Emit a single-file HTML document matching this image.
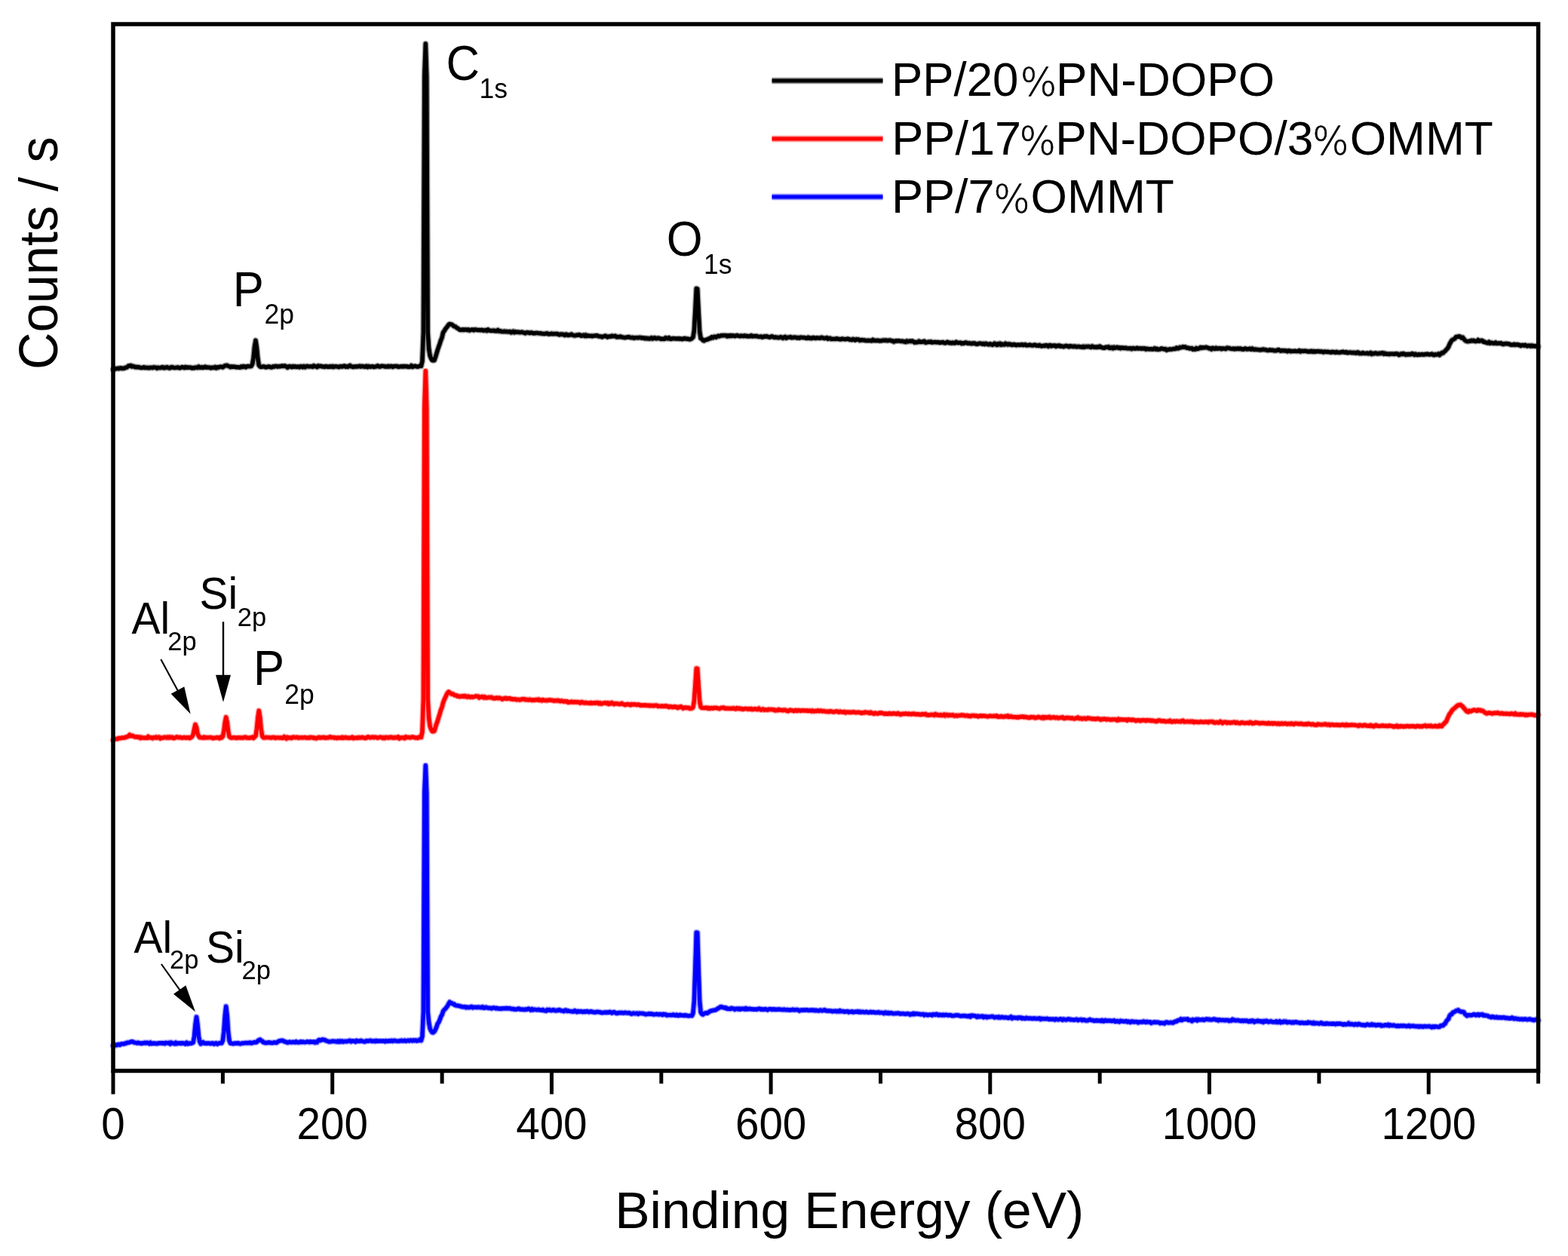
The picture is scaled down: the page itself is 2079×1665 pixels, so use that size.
<!DOCTYPE html>
<html><head><meta charset="utf-8"><title>XPS survey spectra</title>
<style>
html,body{margin:0;padding:0;background:#fff;overflow:hidden;}
svg{display:block;}
</style></head><body>
<svg width="2079" height="1665" viewBox="0 0 2079 1665" font-family="'Liberation Sans', Arial, sans-serif">
<rect width="2079" height="1665" fill="#fff"/>
<defs>
<path id="c0" d="M150.0 489.8L151.5 489.8L152.9 489.0L154.4 488.6L155.8 488.3L157.3 488.7L158.7 488.1L160.2 487.8L161.6 488.5L163.1 488.3L164.5 488.4L166.0 487.4L167.4 487.2L168.9 486.5L170.3 485.0L171.8 485.1L173.3 484.4L174.7 485.9L176.2 485.4L177.6 485.8L179.1 486.7L180.5 486.4L182.0 486.9L183.4 486.5L184.9 487.0L186.3 487.5L187.8 487.5L189.2 487.4L190.7 486.8L192.2 487.5L193.6 487.3L195.1 487.6L196.5 487.4L198.0 487.8L199.4 487.3L200.9 487.4L202.3 487.6L203.8 486.8L205.2 487.1L206.7 487.1L208.1 488.2L209.6 487.3L211.0 487.6L212.5 487.6L214.0 487.2L215.4 486.6L216.9 487.7L218.3 487.1L219.8 487.6L221.2 486.7L222.7 487.1L224.1 487.9L225.6 487.9L227.0 486.7L228.5 486.7L229.9 487.3L231.4 487.6L232.9 487.4L234.3 487.4L235.8 486.9L237.2 487.6L238.7 487.8L240.1 487.1L241.6 486.7L243.0 487.0L244.5 487.6L245.9 486.5L247.4 487.3L248.8 486.9L250.3 487.2L251.7 487.2L253.2 487.3L254.7 488.0L256.1 487.5L257.6 487.9L259.0 487.2L260.5 487.1L261.9 487.5L263.4 486.0L264.8 487.3L266.3 487.4L267.7 486.7L269.2 487.5L270.6 487.0L272.1 486.2L273.6 487.2L275.0 486.9L276.5 487.1L277.9 487.2L279.4 487.9L280.8 487.3L282.3 487.3L283.7 487.5L285.2 486.5L286.6 487.9L288.1 486.8L289.5 487.3L291.0 486.4L292.4 486.3L293.9 486.3L295.4 486.9L296.8 485.9L298.3 484.8L299.7 484.5L301.2 484.4L302.6 485.4L304.1 485.6L305.5 486.7L307.0 485.9L308.4 486.3L309.9 486.1L311.3 486.2L312.8 486.8L314.2 486.6L315.7 486.8L317.2 487.0L318.6 487.0L320.1 485.8L321.5 486.5L323.0 485.4L324.4 486.0L325.9 486.8L327.3 485.7L328.8 485.5L330.2 485.7L331.7 485.6L333.1 485.4L334.6 482.7L336.1 474.5L337.5 459.4L339.0 451.3L340.4 460.8L341.9 475.8L343.3 484.2L344.8 486.0L346.2 486.5L347.7 486.1L349.1 485.8L350.6 486.1L352.0 486.7L353.5 486.7L354.9 486.3L356.4 485.9L357.9 486.3L359.3 486.9L360.8 486.7L362.2 485.8L363.7 486.1L365.1 485.4L366.6 485.5L368.0 486.1L369.5 485.7L370.9 485.7L372.4 485.5L373.8 485.0L375.3 485.5L376.8 485.0L378.2 485.1L379.7 486.1L381.1 487.2L382.6 486.1L384.0 485.5L385.5 486.1L386.9 486.6L388.4 485.5L389.8 486.3L391.3 485.7L392.7 486.5L394.2 486.3L395.6 486.0L397.1 486.8L398.6 485.7L400.0 485.6L401.5 486.7L402.9 485.5L404.4 486.8L405.8 485.8L407.3 485.4L408.7 485.8L410.2 485.9L411.6 485.9L413.1 485.7L414.5 486.3L416.0 484.8L417.5 485.6L418.9 485.7L420.4 486.6L421.8 484.9L423.3 485.6L424.7 485.3L426.2 485.5L427.6 486.1L429.1 486.0L430.5 486.4L432.0 485.5L433.4 485.9L434.9 486.3L436.3 486.2L437.8 485.6L439.3 486.3L440.7 485.4L442.2 486.6L443.6 485.9L445.1 485.7L446.5 485.9L448.0 486.2L449.4 486.6L450.9 485.7L452.3 485.6L453.8 486.1L455.2 485.4L456.7 485.0L458.2 486.2L459.6 485.6L461.1 486.3L462.5 485.3L464.0 484.5L465.4 485.9L466.9 485.9L468.3 486.5L469.8 486.0L471.2 485.9L472.7 486.1L474.1 485.6L475.6 485.8L477.0 485.2L478.5 486.0L480.0 485.4L481.4 485.6L482.9 486.1L484.3 486.2L485.8 485.3L487.2 486.6L488.7 485.5L490.1 486.1L491.6 486.2L493.0 485.8L494.5 485.8L495.9 486.5L497.4 486.1L498.8 485.9L500.3 484.9L501.8 485.4L503.2 486.2L504.7 485.8L506.1 485.2L507.6 485.4L509.0 485.5L510.5 486.0L511.9 485.8L513.4 486.1L514.8 485.3L516.3 486.1L517.7 485.4L519.2 485.5L520.7 486.4L522.1 485.6L523.6 485.5L525.0 485.5L526.5 485.4L527.9 486.3L529.4 486.2L530.8 485.9L532.3 485.7L533.7 486.0L535.2 485.5L536.6 485.8L538.1 485.7L539.5 485.6L541.0 486.3L542.5 486.3L543.9 486.1L545.4 484.7L546.8 486.4L548.3 485.8L549.7 485.3L551.2 485.5L552.6 486.0L554.1 486.0L555.5 485.7L557.0 484.8L558.4 485.3L559.9 479.1L561.4 441.0L562.8 100.8L564.3 58.0L565.7 100.8L567.2 441.0L568.6 462.0L570.1 471.5L571.5 475.0L573.0 477.5L574.4 477.8L575.9 477.6L577.3 473.7L578.8 468.8L580.2 464.0L581.7 459.6L583.2 455.3L584.6 450.9L586.1 447.2L587.5 440.9L589.0 438.8L590.4 436.4L591.9 434.4L593.3 432.7L594.8 430.5L596.2 429.5L597.7 429.9L599.1 430.2L600.6 431.4L602.1 432.6L603.5 432.8L605.0 434.1L606.4 435.0L607.9 435.8L609.3 437.0L610.8 437.3L612.2 437.3L613.7 436.8L615.1 437.4L616.6 436.9L618.0 436.9L619.5 437.5L620.9 436.8L622.4 438.0L623.9 437.5L625.3 437.0L626.8 437.0L628.2 437.8L629.7 436.8L631.1 437.1L632.6 437.4L634.0 437.5L635.5 437.5L636.9 437.7L638.4 437.4L639.8 437.5L641.3 438.2L642.7 437.9L644.2 437.5L645.7 438.5L647.1 436.9L648.6 437.9L650.0 438.3L651.5 438.5L652.9 438.3L654.4 438.1L655.8 438.7L657.3 438.5L658.7 438.9L660.2 437.5L661.6 439.0L663.1 438.6L664.6 439.5L666.0 439.5L667.5 439.6L668.9 439.2L670.4 439.7L671.8 439.5L673.3 439.8L674.7 439.8L676.2 439.5L677.6 440.9L679.1 440.4L680.5 439.3L682.0 440.7L683.4 439.7L684.9 440.3L686.4 440.2L687.8 440.3L689.3 440.7L690.7 440.5L692.2 440.1L693.6 440.8L695.1 441.1L696.5 441.8L698.0 440.9L699.4 440.6L700.9 441.0L702.3 441.6L703.8 440.9L705.3 441.1L706.7 441.7L708.2 441.6L709.6 441.7L711.1 441.4L712.5 441.4L714.0 441.7L715.4 441.9L716.9 441.8L718.3 442.3L719.8 442.4L721.2 442.5L722.7 442.5L724.1 442.0L725.6 441.9L727.1 442.9L728.5 442.6L730.0 442.7L731.4 442.2L732.9 442.7L734.3 442.6L735.8 442.5L737.2 442.7L738.7 442.4L740.1 443.2L741.6 443.8L743.0 443.0L744.5 443.4L746.0 443.0L747.4 443.8L748.9 444.4L750.3 443.1L751.8 443.6L753.2 444.5L754.7 444.0L756.1 444.0L757.6 443.1L759.0 444.0L760.5 444.6L761.9 444.9L763.4 444.6L764.8 444.1L766.3 444.2L767.8 443.7L769.2 444.1L770.7 445.2L772.1 444.7L773.6 444.2L775.0 445.4L776.5 444.1L777.9 445.5L779.4 444.8L780.8 445.2L782.3 445.4L783.7 445.2L785.2 445.7L786.6 445.2L788.1 445.1L789.6 445.0L791.0 444.7L792.5 445.1L793.9 445.9L795.4 445.9L796.8 446.2L798.3 446.8L799.7 446.0L801.2 445.9L802.6 445.2L804.1 445.7L805.5 446.9L807.0 446.2L808.5 445.9L809.9 446.2L811.4 445.2L812.8 445.7L814.3 445.6L815.7 445.3L817.2 446.7L818.6 446.8L820.1 446.4L821.5 446.7L823.0 446.1L824.4 446.9L825.9 447.1L827.3 447.5L828.8 447.6L830.3 447.2L831.7 447.0L833.2 446.7L834.6 446.9L836.1 447.5L837.5 447.6L839.0 447.4L840.4 448.2L841.9 447.8L843.3 447.6L844.8 447.6L846.2 447.8L847.7 447.4L849.2 447.4L850.6 448.1L852.1 447.8L853.5 448.0L855.0 448.7L856.4 448.1L857.9 448.9L859.3 448.4L860.8 449.1L862.2 448.7L863.7 447.7L865.1 449.1L866.6 448.5L868.0 447.7L869.5 448.7L871.0 448.7L872.4 448.1L873.9 448.4L875.3 448.9L876.8 449.4L878.2 449.3L879.7 449.3L881.1 449.3L882.6 447.7L884.0 448.5L885.5 448.9L886.9 447.7L888.4 449.2L889.9 449.3L891.3 448.6L892.8 448.8L894.2 448.6L895.7 449.0L897.1 449.0L898.6 449.1L900.0 448.6L901.5 449.3L902.9 449.0L904.4 449.6L905.8 449.3L907.3 448.5L908.7 448.6L910.2 449.3L911.7 449.1L913.1 449.6L914.6 449.8L916.0 449.4L917.5 448.5L918.9 447.0L920.4 438.0L921.8 412.1L923.3 382.5L924.7 382.9L926.2 413.0L927.6 438.9L929.1 448.5L930.6 449.3L932.0 451.1L933.5 451.7L934.9 450.8L936.4 450.3L937.8 450.0L939.3 449.5L940.7 448.5L942.2 448.6L943.6 446.9L945.1 447.8L946.5 446.4L948.0 446.4L949.4 447.2L950.9 445.9L952.4 445.3L953.8 445.8L955.3 445.1L956.7 444.8L958.2 444.7L959.6 444.7L961.1 444.6L962.5 444.6L964.0 445.8L965.4 444.8L966.9 445.6L968.3 444.6L969.8 445.5L971.2 444.7L972.7 445.1L974.2 445.6L975.6 445.1L977.1 444.5L978.5 445.2L980.0 445.4L981.4 445.7L982.9 445.1L984.3 445.4L985.8 445.6L987.2 444.9L988.7 445.6L990.1 445.3L991.6 445.9L993.1 445.7L994.5 445.7L996.0 444.7L997.4 445.8L998.9 445.7L1000.3 445.5L1001.8 445.7L1003.2 445.4L1004.7 446.1L1006.1 446.4L1007.6 446.4L1009.0 446.0L1010.5 447.0L1011.9 446.7L1013.4 445.9L1014.9 446.3L1016.3 445.7L1017.8 446.4L1019.2 446.8L1020.7 447.1L1022.1 446.4L1023.6 445.9L1025.0 446.6L1026.5 447.4L1027.9 446.9L1029.4 447.4L1030.8 447.3L1032.3 447.7L1033.8 447.3L1035.2 446.7L1036.7 447.3L1038.1 448.3L1039.6 447.0L1041.0 446.4L1042.5 448.2L1043.9 447.5L1045.4 447.1L1046.8 447.1L1048.3 446.7L1049.7 447.7L1051.2 447.5L1052.6 447.2L1054.1 447.3L1055.6 447.3L1057.0 448.0L1058.5 447.5L1059.9 448.2L1061.4 447.2L1062.8 447.4L1064.3 447.5L1065.7 447.5L1067.2 447.7L1068.6 448.2L1070.1 448.3L1071.5 447.3L1073.0 448.4L1074.5 447.9L1075.9 448.6L1077.4 447.8L1078.8 447.5L1080.3 448.3L1081.7 448.3L1083.2 447.8L1084.6 448.0L1086.1 448.1L1087.5 448.2L1089.0 447.3L1090.4 447.6L1091.9 448.3L1093.3 448.5L1094.8 448.2L1096.3 447.7L1097.7 449.2L1099.2 448.5L1100.6 448.3L1102.1 449.5L1103.5 449.4L1105.0 449.4L1106.4 449.4L1107.9 449.4L1109.3 448.8L1110.8 449.3L1112.2 449.5L1113.7 449.7L1115.1 449.7L1116.6 449.1L1118.1 449.4L1119.5 449.6L1121.0 449.7L1122.4 449.5L1123.9 449.2L1125.3 449.5L1126.8 450.3L1128.2 450.2L1129.7 450.6L1131.1 449.5L1132.6 450.3L1134.0 450.9L1135.5 449.7L1137.0 450.2L1138.4 450.0L1139.9 451.3L1141.3 450.8L1142.8 450.6L1144.2 450.9L1145.7 450.9L1147.1 451.4L1148.6 451.5L1150.0 451.5L1151.5 451.3L1152.9 451.5L1154.4 451.5L1155.8 451.8L1157.3 450.4L1158.8 451.5L1160.2 451.4L1161.7 451.5L1163.1 451.3L1164.6 451.5L1166.0 451.8L1167.5 451.7L1168.9 451.7L1170.4 451.2L1171.8 451.1L1173.3 451.4L1174.7 451.0L1176.2 451.6L1177.7 451.5L1179.1 451.1L1180.6 451.1L1182.0 451.8L1183.5 451.8L1184.9 453.1L1186.4 452.5L1187.8 451.8L1189.3 452.0L1190.7 451.8L1192.2 451.9L1193.6 452.2L1195.1 452.4L1196.5 452.1L1198.0 452.8L1199.5 452.8L1200.9 453.4L1202.4 452.0L1203.8 452.9L1205.3 452.5L1206.7 452.0L1208.2 452.6L1209.6 452.0L1211.1 452.8L1212.5 454.1L1214.0 453.5L1215.4 453.8L1216.9 453.5L1218.4 452.3L1219.8 453.3L1221.3 453.2L1222.7 453.4L1224.2 452.7L1225.6 452.3L1227.1 454.2L1228.5 453.9L1230.0 453.5L1231.4 453.2L1232.9 453.5L1234.3 452.9L1235.8 454.0L1237.2 453.6L1238.7 453.6L1240.2 453.5L1241.6 453.7L1243.1 453.8L1244.5 453.6L1246.0 454.3L1247.4 454.0L1248.9 453.9L1250.3 453.6L1251.8 454.6L1253.2 454.7L1254.7 454.4L1256.1 453.3L1257.6 454.1L1259.0 454.7L1260.5 454.3L1262.0 454.9L1263.4 454.2L1264.9 454.8L1266.3 454.7L1267.8 453.4L1269.2 454.4L1270.7 454.5L1272.1 454.4L1273.6 454.3L1275.0 455.5L1276.5 454.8L1277.9 455.2L1279.4 454.3L1280.9 454.0L1282.3 454.8L1283.8 455.2L1285.2 454.8L1286.7 455.4L1288.1 455.6L1289.6 455.0L1291.0 455.3L1292.5 455.0L1293.9 455.9L1295.4 456.2L1296.8 455.7L1298.3 455.3L1299.7 455.3L1301.2 455.5L1302.7 456.1L1304.1 455.4L1305.6 456.4L1307.0 455.3L1308.5 455.8L1309.9 456.5L1311.4 456.7L1312.8 455.8L1314.3 456.4L1315.7 457.2L1317.2 456.6L1318.6 455.2L1320.1 456.3L1321.6 457.3L1323.0 455.8L1324.5 456.7L1325.9 455.4L1327.4 457.1L1328.8 456.1L1330.3 456.9L1331.7 456.9L1333.2 455.3L1334.6 456.0L1336.1 456.8L1337.5 456.0L1339.0 456.7L1340.4 456.4L1341.9 457.4L1343.4 456.7L1344.8 456.5L1346.3 457.3L1347.7 457.6L1349.2 457.0L1350.6 457.2L1352.1 457.4L1353.5 457.0L1355.0 456.7L1356.4 457.5L1357.9 457.2L1359.3 456.7L1360.8 457.8L1362.3 457.6L1363.7 457.6L1365.2 457.2L1366.6 457.5L1368.1 457.9L1369.5 457.9L1371.0 457.3L1372.4 457.3L1373.9 458.0L1375.3 457.9L1376.8 458.3L1378.2 457.4L1379.7 458.4L1381.1 458.8L1382.6 458.5L1384.1 458.2L1385.5 458.6L1387.0 457.6L1388.4 458.0L1389.9 459.2L1391.3 457.6L1392.8 457.8L1394.2 458.8L1395.7 458.2L1397.1 458.2L1398.6 458.0L1400.0 459.3L1401.5 458.3L1403.0 458.5L1404.4 457.9L1405.9 459.1L1407.3 458.8L1408.8 459.1L1410.2 459.6L1411.7 459.0L1413.1 458.4L1414.6 458.6L1416.0 459.1L1417.5 459.7L1418.9 458.6L1420.4 459.1L1421.8 459.2L1423.3 459.6L1424.8 458.9L1426.2 459.5L1427.7 459.8L1429.1 459.4L1430.6 459.4L1432.0 459.8L1433.5 459.8L1434.9 460.2L1436.4 459.2L1437.8 460.3L1439.3 459.6L1440.7 459.3L1442.2 459.6L1443.6 459.3L1445.1 459.8L1446.6 460.4L1448.0 459.0L1449.5 459.5L1450.9 460.4L1452.4 460.0L1453.8 460.5L1455.3 459.6L1456.7 460.2L1458.2 459.1L1459.6 460.0L1461.1 460.7L1462.5 461.0L1464.0 461.2L1465.5 460.5L1466.9 460.2L1468.4 460.5L1469.8 459.8L1471.3 461.4L1472.7 461.3L1474.2 460.4L1475.6 461.7L1477.1 460.3L1478.5 461.3L1480.0 460.7L1481.4 460.3L1482.9 461.3L1484.3 460.7L1485.8 461.8L1487.3 460.9L1488.7 461.4L1490.2 461.2L1491.6 461.5L1493.1 461.2L1494.5 461.9L1496.0 461.9L1497.4 461.7L1498.9 461.6L1500.3 462.6L1501.8 461.5L1503.2 461.6L1504.7 462.2L1506.2 461.9L1507.6 461.3L1509.1 462.0L1510.5 461.9L1512.0 461.7L1513.4 462.3L1514.9 461.7L1516.3 462.2L1517.8 461.8L1519.2 463.1L1520.7 462.3L1522.1 462.7L1523.6 462.7L1525.0 462.9L1526.5 462.6L1528.0 463.0L1529.4 462.8L1530.9 461.7L1532.3 463.0L1533.8 462.3L1535.2 463.4L1536.7 463.1L1538.1 462.9L1539.6 462.0L1541.0 462.2L1542.5 462.6L1543.9 463.0L1545.4 462.6L1546.9 464.2L1548.3 463.5L1549.8 463.3L1551.2 462.9L1552.7 463.1L1554.1 462.9L1555.6 462.5L1557.0 462.4L1558.5 462.5L1559.9 461.1L1561.4 461.7L1562.8 461.8L1564.3 460.4L1565.7 460.7L1567.2 460.3L1568.7 459.7L1570.1 460.4L1571.6 459.9L1573.0 461.0L1574.5 461.2L1575.9 461.3L1577.4 462.0L1578.8 461.9L1580.3 461.6L1581.7 463.2L1583.2 462.9L1584.6 463.1L1586.1 461.5L1587.5 462.5L1589.0 462.2L1590.5 461.6L1591.9 460.4L1593.4 461.3L1594.8 460.7L1596.3 460.8L1597.7 460.7L1599.2 460.3L1600.6 460.9L1602.1 461.2L1603.5 462.1L1605.0 461.6L1606.4 462.9L1607.9 461.3L1609.4 461.8L1610.8 462.4L1612.3 461.2L1613.7 462.2L1615.2 462.1L1616.6 461.7L1618.1 461.8L1619.5 462.7L1621.0 461.8L1622.4 462.1L1623.9 462.2L1625.3 462.6L1626.8 461.1L1628.2 461.4L1629.7 461.5L1631.2 462.0L1632.6 462.4L1634.1 462.5L1635.5 462.0L1637.0 462.9L1638.4 462.2L1639.9 462.5L1641.3 461.9L1642.8 462.6L1644.2 461.9L1645.7 462.8L1647.1 462.7L1648.6 463.2L1650.1 462.2L1651.5 462.0L1653.0 462.9L1654.4 462.8L1655.9 462.5L1657.3 462.2L1658.8 463.2L1660.2 462.0L1661.7 462.8L1663.1 463.5L1664.6 463.0L1666.0 463.4L1667.5 463.5L1668.9 463.6L1670.4 463.9L1671.9 463.8L1673.3 463.4L1674.8 463.1L1676.2 463.6L1677.7 463.5L1679.1 464.0L1680.6 464.5L1682.0 464.4L1683.5 463.8L1684.9 464.2L1686.4 464.2L1687.8 464.1L1689.3 464.9L1690.8 464.7L1692.2 464.7L1693.7 464.0L1695.1 463.5L1696.6 464.3L1698.0 465.2L1699.5 464.7L1700.9 464.8L1702.4 464.7L1703.8 465.1L1705.3 464.9L1706.7 465.8L1708.2 465.0L1709.6 464.9L1711.1 465.8L1712.6 465.5L1714.0 465.5L1715.5 465.5L1716.9 465.3L1718.4 465.5L1719.8 465.6L1721.3 465.5L1722.7 464.6L1724.2 466.1L1725.6 465.3L1727.1 465.3L1728.5 465.5L1730.0 465.3L1731.4 465.3L1732.9 465.7L1734.4 466.2L1735.8 465.7L1737.3 466.1L1738.7 465.3L1740.2 466.3L1741.6 465.5L1743.1 466.4L1744.5 465.8L1746.0 465.9L1747.4 465.6L1748.9 465.7L1750.3 466.2L1751.8 465.9L1753.3 466.3L1754.7 466.9L1756.2 466.1L1757.6 466.4L1759.1 466.5L1760.5 466.3L1762.0 466.6L1763.4 466.8L1764.9 467.2L1766.3 466.4L1767.8 466.7L1769.2 466.8L1770.7 467.4L1772.1 466.5L1773.6 467.1L1775.1 467.4L1776.5 467.3L1778.0 466.8L1779.4 466.7L1780.9 466.3L1782.3 467.0L1783.8 467.2L1785.2 466.6L1786.7 467.7L1788.1 467.5L1789.6 467.3L1791.0 467.2L1792.5 467.7L1794.0 467.4L1795.4 467.8L1796.9 467.4L1798.3 468.2L1799.8 467.0L1801.2 467.3L1802.7 468.6L1804.1 468.3L1805.6 468.6L1807.0 467.6L1808.5 468.3L1809.9 468.5L1811.4 468.5L1812.8 468.0L1814.3 468.8L1815.8 468.4L1817.2 467.6L1818.7 469.4L1820.1 468.4L1821.6 468.9L1823.0 468.1L1824.5 468.0L1825.9 468.9L1827.4 468.9L1828.8 468.2L1830.3 468.7L1831.7 468.0L1833.2 467.8L1834.7 469.2L1836.1 468.2L1837.6 469.1L1839.0 469.3L1840.5 469.1L1841.9 469.6L1843.4 469.1L1844.8 469.1L1846.3 469.1L1847.7 469.3L1849.2 469.3L1850.6 468.8L1852.1 469.2L1853.5 469.1L1855.0 470.6L1856.5 469.9L1857.9 469.0L1859.4 469.6L1860.8 468.6L1862.3 469.4L1863.7 470.3L1865.2 469.5L1866.6 470.1L1868.1 469.4L1869.5 469.8L1871.0 469.7L1872.4 468.6L1873.9 469.3L1875.4 470.5L1876.8 469.3L1878.3 470.2L1879.7 470.5L1881.2 469.7L1882.6 470.2L1884.1 470.0L1885.5 469.6L1887.0 470.1L1888.4 470.1L1889.9 469.5L1891.3 469.7L1892.8 469.3L1894.2 469.8L1895.7 470.0L1897.2 469.6L1898.6 469.2L1900.1 470.4L1901.5 470.7L1903.0 469.7L1904.4 470.2L1905.9 469.9L1907.3 469.0L1908.8 470.6L1910.2 469.1L1911.7 467.6L1913.1 468.0L1914.6 466.5L1916.0 465.4L1917.5 463.7L1919.0 462.2L1920.4 460.1L1921.9 456.5L1923.3 453.9L1924.8 451.4L1926.2 450.2L1927.7 449.7L1929.1 448.6L1930.6 446.6L1932.0 446.4L1933.5 446.4L1934.9 445.8L1936.4 446.6L1937.9 447.9L1939.3 447.2L1940.8 449.2L1942.2 450.8L1943.7 452.0L1945.1 452.5L1946.6 452.6L1948.0 452.3L1949.5 452.1L1950.9 451.3L1952.4 451.9L1953.8 451.3L1955.3 452.2L1956.7 452.5L1958.2 452.1L1959.7 450.7L1961.1 452.2L1962.6 451.9L1964.0 451.4L1965.5 451.5L1966.9 453.2L1968.4 453.1L1969.8 454.0L1971.3 454.3L1972.7 454.8L1974.2 453.3L1975.6 455.1L1977.1 454.3L1978.6 454.6L1980.0 455.1L1981.5 455.1L1982.9 454.0L1984.4 455.4L1985.8 455.2L1987.3 454.9L1988.7 455.2L1990.2 454.8L1991.6 456.0L1993.1 456.4L1994.5 455.6L1996.0 455.7L1997.4 455.4L1998.9 455.8L2000.4 455.8L2001.8 456.4L2003.3 457.2L2004.7 457.0L2006.2 457.1L2007.6 456.3L2009.1 457.3L2010.5 456.7L2012.0 456.7L2013.4 457.5L2014.9 457.3L2016.3 458.5L2017.8 457.6L2019.3 457.5L2020.7 458.1L2022.2 457.3L2023.6 458.3L2025.1 458.8L2026.5 458.1L2028.0 458.1L2029.4 458.9L2030.9 458.0L2032.3 458.8L2033.8 458.5L2035.2 459.0L2036.7 458.6L2038.1 459.4L2039.6 459.5"/>
<path id="c1" d="M150.0 981.3L151.5 979.6L152.9 979.8L154.4 979.5L155.8 979.6L157.3 978.5L158.7 978.7L160.2 978.4L161.6 978.1L163.1 978.0L164.5 978.0L166.0 977.7L167.4 976.8L168.9 976.7L170.3 975.8L171.8 974.2L173.3 975.7L174.7 975.1L176.2 975.5L177.6 976.4L179.1 976.9L180.5 977.0L182.0 976.8L183.4 977.5L184.9 976.9L186.3 978.5L187.8 977.4L189.2 978.0L190.7 978.1L192.2 978.2L193.6 978.0L195.1 978.3L196.5 976.4L198.0 977.9L199.4 977.9L200.9 977.8L202.3 978.7L203.8 977.5L205.2 977.9L206.7 977.0L208.1 978.1L209.6 977.2L211.0 977.2L212.5 979.0L214.0 978.2L215.4 977.9L216.9 978.0L218.3 977.2L219.8 977.4L221.2 978.0L222.7 976.9L224.1 978.0L225.6 977.0L227.0 977.9L228.5 977.3L229.9 978.6L231.4 978.3L232.9 977.6L234.3 976.9L235.8 977.4L237.2 977.7L238.7 977.3L240.1 977.9L241.6 978.2L243.0 977.7L244.5 977.5L245.9 978.1L247.4 977.6L248.8 978.1L250.3 977.6L251.7 978.5L253.2 977.5L254.7 976.5L256.1 973.8L257.6 966.3L259.0 960.5L260.5 964.2L261.9 972.3L263.4 975.6L264.8 977.6L266.3 977.7L267.7 977.7L269.2 978.1L270.6 977.1L272.1 978.0L273.6 977.6L275.0 977.8L276.5 977.6L277.9 977.6L279.4 977.5L280.8 977.9L282.3 978.7L283.7 978.2L285.2 978.1L286.6 978.0L288.1 977.5L289.5 978.0L291.0 978.7L292.4 977.1L293.9 977.9L295.4 976.2L296.8 969.3L298.3 957.5L299.7 950.8L301.2 957.8L302.6 969.5L304.1 976.6L305.5 977.7L307.0 978.1L308.4 977.8L309.9 977.9L311.3 977.6L312.8 978.1L314.2 978.4L315.7 977.7L317.2 977.9L318.6 978.1L320.1 977.8L321.5 978.2L323.0 977.9L324.4 977.2L325.9 977.3L327.3 978.1L328.8 978.1L330.2 978.3L331.7 977.9L333.1 977.9L334.6 977.1L336.1 978.4L337.5 977.0L339.0 975.6L340.4 966.6L341.9 951.0L343.3 942.2L344.8 951.5L346.2 966.9L347.7 975.7L349.1 977.8L350.6 977.9L352.0 977.6L353.5 977.4L354.9 977.6L356.4 977.6L357.9 977.8L359.3 978.1L360.8 977.7L362.2 977.4L363.7 977.5L365.1 978.4L366.6 977.9L368.0 977.9L369.5 977.9L370.9 978.1L372.4 977.9L373.8 978.3L375.3 978.2L376.8 976.5L378.2 977.7L379.7 979.1L381.1 977.2L382.6 977.9L384.0 978.3L385.5 977.8L386.9 978.4L388.4 977.2L389.8 977.2L391.3 977.7L392.7 977.5L394.2 977.3L395.6 978.1L397.1 977.9L398.6 977.8L400.0 977.6L401.5 977.9L402.9 977.7L404.4 977.5L405.8 978.0L407.3 978.0L408.7 977.8L410.2 978.1L411.6 977.3L413.1 977.7L414.5 977.6L416.0 978.4L417.5 978.0L418.9 978.8L420.4 978.5L421.8 977.6L423.3 977.3L424.7 978.0L426.2 977.7L427.6 977.7L429.1 977.3L430.5 978.1L432.0 977.9L433.4 978.0L434.9 977.9L436.3 977.4L437.8 976.8L439.3 977.7L440.7 977.5L442.2 977.6L443.6 978.2L445.1 977.8L446.5 978.5L448.0 977.9L449.4 978.1L450.9 978.0L452.3 978.2L453.8 977.2L455.2 978.3L456.7 977.8L458.2 977.4L459.6 978.1L461.1 978.0L462.5 978.4L464.0 978.1L465.4 978.0L466.9 977.1L468.3 978.6L469.8 978.5L471.2 978.1L472.7 978.0L474.1 978.3L475.6 977.4L477.0 978.1L478.5 977.8L480.0 977.3L481.4 977.9L482.9 977.9L484.3 978.5L485.8 978.2L487.2 977.0L488.7 976.9L490.1 977.7L491.6 977.7L493.0 977.3L494.5 977.1L495.9 977.7L497.4 977.2L498.8 977.4L500.3 978.1L501.8 977.8L503.2 977.4L504.7 977.2L506.1 977.6L507.6 978.5L509.0 977.5L510.5 978.5L511.9 977.3L513.4 977.6L514.8 978.0L516.3 977.3L517.7 977.7L519.2 977.1L520.7 978.0L522.1 978.2L523.6 977.4L525.0 977.8L526.5 977.5L527.9 976.7L529.4 978.9L530.8 977.9L532.3 978.0L533.7 977.8L535.2 977.7L536.6 978.7L538.1 976.8L539.5 977.5L541.0 977.4L542.5 977.5L543.9 977.9L545.4 977.3L546.8 977.0L548.3 977.1L549.7 977.8L551.2 978.0L552.6 978.0L554.1 978.3L555.5 977.0L557.0 977.1L558.4 977.4L559.9 970.3L561.4 927.1L562.8 540.4L564.3 491.8L565.7 540.4L567.2 927.1L568.6 951.8L570.1 962.6L571.5 966.6L573.0 969.4L574.4 969.7L575.9 968.9L577.3 964.3L578.8 959.5L580.2 955.8L581.7 950.6L583.2 946.0L584.6 940.9L586.1 937.2L587.5 931.6L589.0 927.7L590.4 924.7L591.9 921.5L593.3 918.6L594.8 917.1L596.2 918.0L597.7 919.3L599.1 920.1L600.6 919.9L602.1 921.2L603.5 921.8L605.0 921.8L606.4 923.0L607.9 922.7L609.3 923.6L610.8 923.1L612.2 923.2L613.7 922.6L615.1 923.4L616.6 922.5L618.0 923.5L619.5 924.0L620.9 922.9L622.4 923.9L623.9 924.2L625.3 923.5L626.8 924.1L628.2 923.7L629.7 923.4L631.1 922.8L632.6 923.2L634.0 923.1L635.5 924.9L636.9 924.0L638.4 923.9L639.8 923.4L641.3 924.9L642.7 923.7L644.2 925.0L645.7 924.9L647.1 924.6L648.6 924.3L650.0 924.7L651.5 924.2L652.9 925.2L654.4 925.8L655.8 925.5L657.3 925.7L658.7 925.0L660.2 925.6L661.6 925.1L663.1 925.4L664.6 926.1L666.0 926.9L667.5 926.0L668.9 926.0L670.4 925.3L671.8 926.3L673.3 925.9L674.7 925.8L676.2 925.8L677.6 926.7L679.1 926.5L680.5 927.1L682.0 926.8L683.4 926.9L684.9 927.7L686.4 927.4L687.8 927.4L689.3 927.8L690.7 927.3L692.2 926.8L693.6 926.9L695.1 926.6L696.5 927.6L698.0 927.3L699.4 927.7L700.9 927.9L702.3 927.2L703.8 927.7L705.3 928.3L706.7 927.8L708.2 928.2L709.6 927.8L711.1 927.5L712.5 927.8L714.0 927.1L715.4 928.4L716.9 927.9L718.3 928.8L719.8 927.6L721.2 928.3L722.7 928.5L724.1 928.3L725.6 928.6L727.1 928.1L728.5 928.0L730.0 928.0L731.4 928.4L732.9 928.4L734.3 929.0L735.8 928.8L737.2 928.8L738.7 928.8L740.1 928.4L741.6 929.2L743.0 929.6L744.5 928.9L746.0 929.5L747.4 930.0L748.9 929.5L750.3 930.0L751.8 929.8L753.2 931.2L754.7 930.8L756.1 930.8L757.6 930.1L759.0 930.8L760.5 930.5L761.9 930.8L763.4 930.5L764.8 930.9L766.3 930.6L767.8 931.2L769.2 932.0L770.7 930.6L772.1 930.7L773.6 931.7L775.0 931.9L776.5 931.4L777.9 931.9L779.4 931.9L780.8 932.0L782.3 932.4L783.7 931.5L785.2 932.2L786.6 932.0L788.1 931.7L789.6 932.2L791.0 931.5L792.5 931.4L793.9 932.7L795.4 931.7L796.8 933.0L798.3 932.8L799.7 932.1L801.2 932.0L802.6 931.5L804.1 932.5L805.5 931.8L807.0 933.3L808.5 931.9L809.9 932.8L811.4 931.5L812.8 932.7L814.3 933.5L815.7 932.7L817.2 932.6L818.6 932.8L820.1 933.2L821.5 933.5L823.0 933.1L824.4 932.3L825.9 933.5L827.3 933.9L828.8 934.6L830.3 933.6L831.7 933.7L833.2 933.5L834.6 934.1L836.1 934.7L837.5 933.5L839.0 934.0L840.4 933.6L841.9 933.8L843.3 934.1L844.8 934.5L846.2 934.0L847.7 934.3L849.2 935.1L850.6 934.8L852.1 935.0L853.5 934.9L855.0 934.7L856.4 935.1L857.9 935.2L859.3 935.0L860.8 935.6L862.2 935.2L863.7 935.6L865.1 935.3L866.6 935.7L868.0 935.2L869.5 935.3L871.0 935.1L872.4 936.3L873.9 936.1L875.3 936.1L876.8 936.4L878.2 935.8L879.7 936.3L881.1 936.2L882.6 935.6L884.0 936.5L885.5 936.3L886.9 937.4L888.4 936.5L889.9 936.7L891.3 937.5L892.8 937.2L894.2 936.7L895.7 937.5L897.1 937.2L898.6 938.4L900.0 937.2L901.5 937.5L902.9 936.6L904.4 937.7L905.8 939.0L907.3 938.2L908.7 937.9L910.2 938.4L911.7 938.2L913.1 938.3L914.6 939.4L916.0 939.2L917.5 938.9L918.9 937.5L920.4 929.2L921.8 909.1L923.3 886.1L924.7 886.3L926.2 909.4L927.6 929.4L929.1 937.1L930.6 938.4L932.0 938.4L933.5 938.5L934.9 938.3L936.4 938.2L937.8 939.0L939.3 938.3L940.7 939.4L942.2 938.8L943.6 938.5L945.1 939.0L946.5 938.3L948.0 938.5L949.4 938.4L950.9 938.6L952.4 939.0L953.8 939.6L955.3 938.9L956.7 938.2L958.2 938.4L959.6 938.0L961.1 939.1L962.5 939.2L964.0 939.0L965.4 939.1L966.9 939.2L968.3 939.2L969.8 939.3L971.2 939.2L972.7 938.7L974.2 939.6L975.6 939.9L977.1 938.6L978.5 939.3L980.0 938.9L981.4 939.7L982.9 939.4L984.3 940.2L985.8 940.1L987.2 939.5L988.7 939.5L990.1 939.5L991.6 940.1L993.1 939.5L994.5 940.2L996.0 939.4L997.4 940.6L998.9 940.3L1000.3 939.6L1001.8 939.9L1003.2 940.4L1004.7 940.5L1006.1 939.1L1007.6 940.5L1009.0 941.2L1010.5 940.4L1011.9 940.0L1013.4 941.2L1014.9 940.8L1016.3 940.9L1017.8 941.1L1019.2 940.3L1020.7 940.6L1022.1 940.5L1023.6 940.5L1025.0 941.0L1026.5 940.7L1027.9 941.9L1029.4 941.5L1030.8 941.7L1032.3 940.5L1033.8 941.2L1035.2 941.3L1036.7 941.5L1038.1 941.7L1039.6 941.1L1041.0 941.1L1042.5 942.0L1043.9 942.6L1045.4 942.6L1046.8 941.5L1048.3 941.3L1049.7 941.8L1051.2 942.0L1052.6 942.6L1054.1 941.7L1055.6 941.5L1057.0 942.4L1058.5 941.6L1059.9 941.6L1061.4 942.3L1062.8 942.0L1064.3 941.6L1065.7 942.0L1067.2 942.0L1068.6 942.1L1070.1 941.9L1071.5 942.5L1073.0 942.1L1074.5 942.1L1075.9 942.9L1077.4 942.0L1078.8 942.8L1080.3 942.8L1081.7 942.4L1083.2 942.7L1084.6 941.9L1086.1 942.7L1087.5 942.2L1089.0 942.3L1090.4 942.9L1091.9 942.5L1093.3 942.9L1094.8 943.1L1096.3 943.4L1097.7 943.2L1099.2 943.6L1100.6 942.8L1102.1 943.0L1103.5 943.5L1105.0 943.8L1106.4 943.6L1107.9 943.2L1109.3 943.0L1110.8 943.1L1112.2 944.1L1113.7 943.2L1115.1 943.6L1116.6 944.0L1118.1 944.0L1119.5 943.5L1121.0 944.8L1122.4 944.0L1123.9 944.1L1125.3 944.4L1126.8 944.0L1128.2 944.5L1129.7 944.1L1131.1 943.9L1132.6 943.9L1134.0 944.5L1135.5 944.5L1137.0 944.4L1138.4 944.3L1139.9 944.5L1141.3 945.0L1142.8 945.2L1144.2 944.6L1145.7 944.9L1147.1 944.0L1148.6 944.4L1150.0 944.6L1151.5 944.6L1152.9 945.4L1154.4 944.2L1155.8 945.4L1157.3 945.5L1158.8 946.2L1160.2 945.1L1161.7 945.5L1163.1 946.0L1164.6 945.8L1166.0 945.0L1167.5 945.3L1168.9 945.0L1170.4 945.6L1171.8 945.9L1173.3 946.3L1174.7 946.0L1176.2 946.2L1177.7 946.3L1179.1 945.5L1180.6 946.2L1182.0 946.4L1183.5 945.9L1184.9 945.6L1186.4 946.1L1187.8 946.2L1189.3 946.5L1190.7 945.4L1192.2 946.1L1193.6 947.2L1195.1 946.9L1196.5 946.3L1198.0 946.3L1199.5 946.3L1200.9 946.0L1202.4 946.3L1203.8 946.6L1205.3 946.1L1206.7 946.6L1208.2 946.8L1209.6 946.2L1211.1 946.6L1212.5 946.1L1214.0 946.9L1215.4 947.0L1216.9 946.7L1218.4 947.0L1219.8 947.3L1221.3 947.4L1222.7 946.5L1224.2 947.0L1225.6 946.6L1227.1 946.4L1228.5 947.8L1230.0 947.7L1231.4 948.0L1232.9 947.8L1234.3 947.3L1235.8 947.6L1237.2 947.3L1238.7 948.2L1240.2 946.6L1241.6 947.8L1243.1 947.4L1244.5 948.1L1246.0 948.3L1247.4 947.5L1248.9 948.5L1250.3 948.4L1251.8 947.2L1253.2 948.8L1254.7 947.4L1256.1 947.4L1257.6 948.5L1259.0 947.8L1260.5 948.2L1262.0 948.1L1263.4 947.7L1264.9 949.0L1266.3 948.9L1267.8 948.3L1269.2 949.0L1270.7 948.4L1272.1 948.5L1273.6 948.3L1275.0 947.9L1276.5 948.4L1277.9 948.1L1279.4 948.8L1280.9 948.7L1282.3 948.4L1283.8 949.3L1285.2 948.9L1286.7 949.6L1288.1 948.6L1289.6 948.7L1291.0 948.5L1292.5 949.0L1293.9 948.9L1295.4 949.0L1296.8 949.8L1298.3 949.4L1299.7 948.8L1301.2 949.3L1302.7 949.0L1304.1 949.0L1305.6 949.1L1307.0 949.3L1308.5 949.6L1309.9 949.8L1311.4 949.4L1312.8 949.0L1314.3 949.4L1315.7 949.4L1317.2 949.4L1318.6 949.0L1320.1 949.5L1321.6 948.8L1323.0 950.2L1324.5 950.0L1325.9 950.1L1327.4 949.3L1328.8 949.9L1330.3 950.4L1331.7 949.8L1333.2 949.4L1334.6 949.9L1336.1 948.9L1337.5 950.4L1339.0 950.2L1340.4 949.5L1341.9 950.4L1343.4 950.7L1344.8 950.5L1346.3 950.5L1347.7 951.0L1349.2 950.4L1350.6 951.0L1352.1 950.3L1353.5 950.1L1355.0 950.3L1356.4 950.0L1357.9 950.7L1359.3 950.2L1360.8 950.8L1362.3 950.8L1363.7 951.4L1365.2 951.5L1366.6 950.5L1368.1 950.7L1369.5 950.8L1371.0 950.6L1372.4 951.7L1373.9 951.5L1375.3 950.9L1376.8 950.4L1378.2 950.8L1379.7 951.1L1381.1 951.8L1382.6 950.6L1384.1 951.9L1385.5 950.6L1387.0 951.4L1388.4 950.8L1389.9 951.2L1391.3 950.3L1392.8 951.7L1394.2 951.5L1395.7 951.0L1397.1 950.6L1398.6 951.6L1400.0 951.6L1401.5 951.0L1403.0 951.9L1404.4 951.7L1405.9 951.3L1407.3 951.4L1408.8 950.7L1410.2 952.2L1411.7 952.4L1413.1 951.9L1414.6 951.4L1416.0 951.5L1417.5 951.9L1418.9 951.7L1420.4 952.3L1421.8 951.8L1423.3 952.6L1424.8 952.8L1426.2 952.0L1427.7 952.0L1429.1 951.0L1430.6 952.4L1432.0 952.6L1433.5 952.1L1434.9 953.0L1436.4 952.3L1437.8 952.1L1439.3 953.0L1440.7 952.9L1442.2 951.8L1443.6 952.4L1445.1 952.2L1446.6 952.7L1448.0 953.0L1449.5 952.7L1450.9 953.0L1452.4 953.4L1453.8 952.9L1455.3 952.5L1456.7 952.7L1458.2 953.6L1459.6 954.0L1461.1 953.2L1462.5 953.5L1464.0 953.0L1465.5 953.2L1466.9 953.9L1468.4 953.3L1469.8 953.6L1471.3 953.7L1472.7 954.2L1474.2 953.8L1475.6 953.7L1477.1 953.6L1478.5 953.6L1480.0 954.3L1481.4 954.9L1482.9 953.2L1484.3 954.5L1485.8 953.6L1487.3 953.8L1488.7 954.0L1490.2 954.0L1491.6 954.1L1493.1 954.0L1494.5 955.1L1496.0 953.7L1497.4 954.1L1498.9 954.1L1500.3 954.6L1501.8 954.0L1503.2 954.6L1504.7 954.7L1506.2 955.6L1507.6 955.0L1509.1 954.7L1510.5 954.9L1512.0 955.7L1513.4 954.9L1514.9 954.6L1516.3 954.7L1517.8 954.9L1519.2 955.5L1520.7 954.7L1522.1 954.9L1523.6 955.2L1525.0 954.8L1526.5 955.6L1528.0 955.2L1529.4 955.6L1530.9 955.7L1532.3 956.2L1533.8 956.3L1535.2 955.2L1536.7 955.0L1538.1 955.1L1539.6 955.9L1541.0 956.0L1542.5 955.8L1543.9 955.8L1545.4 956.6L1546.9 956.3L1548.3 956.1L1549.8 956.3L1551.2 955.3L1552.7 956.6L1554.1 957.0L1555.6 956.2L1557.0 956.0L1558.5 956.7L1559.9 956.0L1561.4 956.3L1562.8 956.5L1564.3 956.2L1565.7 956.7L1567.2 955.5L1568.7 955.3L1570.1 956.8L1571.6 956.7L1573.0 956.6L1574.5 956.3L1575.9 956.6L1577.4 956.8L1578.8 956.1L1580.3 956.8L1581.7 956.3L1583.2 957.6L1584.6 956.9L1586.1 956.9L1587.5 957.3L1589.0 957.3L1590.5 957.3L1591.9 956.6L1593.4 957.0L1594.8 957.4L1596.3 957.1L1597.7 957.1L1599.2 956.8L1600.6 957.2L1602.1 957.7L1603.5 956.6L1605.0 956.6L1606.4 956.7L1607.9 956.6L1609.4 957.8L1610.8 958.1L1612.3 957.6L1613.7 957.4L1615.2 958.0L1616.6 957.9L1618.1 956.4L1619.5 957.5L1621.0 958.6L1622.4 957.4L1623.9 957.3L1625.3 957.3L1626.8 958.4L1628.2 957.5L1629.7 957.9L1631.2 958.3L1632.6 957.9L1634.1 957.8L1635.5 957.4L1637.0 957.3L1638.4 958.4L1639.9 957.4L1641.3 958.4L1642.8 958.6L1644.2 958.7L1645.7 958.0L1647.1 957.7L1648.6 958.2L1650.1 958.7L1651.5 958.4L1653.0 958.4L1654.4 958.2L1655.9 958.7L1657.3 957.4L1658.8 957.8L1660.2 959.1L1661.7 958.6L1663.1 958.7L1664.6 957.6L1666.0 958.1L1667.5 958.3L1668.9 958.5L1670.4 959.1L1671.9 958.4L1673.3 958.7L1674.8 958.4L1676.2 958.6L1677.7 958.9L1679.1 959.0L1680.6 959.2L1682.0 958.3L1683.5 959.2L1684.9 959.1L1686.4 958.6L1687.8 959.5L1689.3 958.7L1690.8 958.9L1692.2 959.3L1693.7 959.7L1695.1 958.9L1696.6 959.8L1698.0 959.4L1699.5 958.9L1700.9 959.6L1702.4 959.3L1703.8 959.0L1705.3 959.3L1706.7 959.9L1708.2 959.5L1709.6 959.3L1711.1 959.8L1712.6 958.9L1714.0 959.8L1715.5 960.1L1716.9 959.1L1718.4 959.1L1719.8 959.3L1721.3 959.6L1722.7 959.4L1724.2 959.7L1725.6 959.3L1727.1 959.9L1728.5 960.1L1730.0 960.1L1731.4 959.6L1732.9 960.3L1734.4 959.3L1735.8 959.7L1737.3 960.0L1738.7 960.6L1740.2 959.9L1741.6 960.4L1743.1 960.9L1744.5 961.0L1746.0 961.0L1747.4 959.9L1748.9 960.4L1750.3 960.5L1751.8 960.6L1753.3 960.6L1754.7 960.3L1756.2 960.4L1757.6 959.9L1759.1 960.8L1760.5 960.7L1762.0 960.3L1763.4 961.4L1764.9 960.7L1766.3 960.4L1767.8 961.0L1769.2 961.0L1770.7 961.1L1772.1 960.8L1773.6 961.2L1775.1 961.0L1776.5 961.5L1778.0 961.1L1779.4 960.7L1780.9 960.6L1782.3 961.4L1783.8 961.6L1785.2 960.5L1786.7 961.5L1788.1 961.2L1789.6 961.4L1791.0 961.0L1792.5 960.9L1794.0 961.1L1795.4 961.1L1796.9 961.3L1798.3 961.6L1799.8 961.6L1801.2 962.4L1802.7 961.2L1804.1 961.5L1805.6 961.8L1807.0 962.0L1808.5 961.3L1809.9 961.2L1811.4 962.0L1812.8 962.1L1814.3 962.2L1815.8 962.3L1817.2 961.3L1818.7 962.5L1820.1 962.0L1821.6 963.0L1823.0 962.0L1824.5 961.2L1825.9 962.2L1827.4 962.4L1828.8 962.5L1830.3 962.4L1831.7 962.2L1833.2 961.7L1834.7 962.4L1836.1 962.4L1837.6 962.2L1839.0 962.6L1840.5 962.5L1841.9 961.8L1843.4 962.3L1844.8 962.4L1846.3 962.7L1847.7 963.5L1849.2 962.8L1850.6 963.1L1852.1 962.0L1853.5 963.5L1855.0 962.8L1856.5 963.2L1857.9 962.5L1859.4 962.9L1860.8 963.3L1862.3 962.9L1863.7 963.0L1865.2 962.5L1866.6 962.5L1868.1 963.0L1869.5 962.7L1871.0 962.9L1872.4 962.5L1873.9 962.6L1875.4 963.1L1876.8 963.4L1878.3 962.5L1879.7 962.4L1881.2 962.7L1882.6 963.1L1884.1 962.8L1885.5 963.1L1887.0 962.5L1888.4 962.2L1889.9 961.7L1891.3 962.9L1892.8 962.6L1894.2 962.2L1895.7 962.7L1897.2 962.0L1898.6 962.9L1900.1 962.9L1901.5 962.9L1903.0 962.2L1904.4 963.0L1905.9 962.7L1907.3 963.1L1908.8 961.6L1910.2 962.7L1911.7 962.7L1913.1 960.5L1914.6 959.6L1916.0 957.7L1917.5 956.6L1919.0 952.8L1920.4 949.9L1921.9 946.4L1923.3 945.1L1924.8 942.4L1926.2 940.8L1927.7 939.4L1929.1 938.4L1930.6 936.9L1932.0 935.7L1933.5 934.7L1934.9 934.7L1936.4 934.2L1937.9 935.5L1939.3 936.5L1940.8 938.6L1942.2 939.9L1943.7 942.1L1945.1 943.2L1946.6 943.9L1948.0 942.3L1949.5 943.0L1950.9 942.7L1952.4 941.7L1953.8 941.2L1955.3 941.3L1956.7 941.7L1958.2 942.4L1959.7 941.1L1961.1 941.7L1962.6 941.3L1964.0 942.3L1965.5 942.1L1966.9 943.0L1968.4 944.3L1969.8 945.1L1971.3 945.9L1972.7 945.1L1974.2 945.0L1975.6 945.3L1977.1 945.4L1978.6 946.0L1980.0 945.3L1981.5 945.3L1982.9 945.2L1984.4 945.2L1985.8 944.7L1987.3 945.7L1988.7 945.9L1990.2 945.8L1991.6 945.4L1993.1 946.2L1994.5 946.1L1996.0 946.1L1997.4 946.3L1998.9 946.1L2000.4 946.4L2001.8 946.6L2003.3 945.9L2004.7 946.3L2006.2 946.4L2007.6 947.0L2009.1 945.7L2010.5 947.1L2012.0 947.1L2013.4 947.1L2014.9 947.4L2016.3 946.6L2017.8 947.4L2019.3 947.0L2020.7 947.1L2022.2 948.0L2023.6 947.3L2025.1 947.9L2026.5 947.5L2028.0 947.4L2029.4 947.4L2030.9 947.0L2032.3 947.5L2033.8 947.7L2035.2 948.3L2036.7 948.1L2038.1 948.1L2039.6 947.4"/>
<path id="c2" d="M150.0 1386.0L151.5 1386.3L152.9 1385.0L154.4 1385.6L155.8 1384.8L157.3 1384.5L158.7 1385.2L160.2 1384.1L161.6 1383.8L163.1 1383.9L164.5 1383.8L166.0 1383.0L167.4 1383.0L168.9 1382.1L170.3 1382.1L171.8 1381.8L173.3 1381.1L174.7 1380.8L176.2 1381.0L177.6 1381.9L179.1 1382.2L180.5 1382.4L182.0 1382.8L183.4 1382.2L184.9 1382.8L186.3 1383.0L187.8 1383.3L189.2 1382.6L190.7 1382.8L192.2 1382.1L193.6 1382.8L195.1 1382.1L196.5 1382.5L198.0 1383.6L199.4 1382.1L200.9 1383.5L202.3 1383.2L203.8 1383.0L205.2 1383.3L206.7 1383.3L208.1 1383.6L209.6 1383.0L211.0 1382.8L212.5 1382.8L214.0 1382.7L215.4 1383.1L216.9 1382.7L218.3 1383.6L219.8 1382.3L221.2 1382.6L222.7 1382.7L224.1 1382.2L225.6 1384.0L227.0 1382.0L228.5 1383.0L229.9 1382.9L231.4 1383.8L232.9 1382.2L234.3 1383.6L235.8 1382.8L237.2 1383.0L238.7 1382.8L240.1 1383.4L241.6 1382.6L243.0 1383.1L244.5 1383.3L245.9 1383.9L247.4 1382.0L248.8 1383.8L250.3 1383.5L251.7 1382.9L253.2 1383.2L254.7 1382.7L256.1 1382.1L257.6 1373.9L259.0 1358.3L260.5 1348.2L261.9 1357.6L263.4 1373.4L264.8 1380.8L266.3 1383.8L267.7 1382.2L269.2 1381.5L270.6 1383.0L272.1 1383.0L273.6 1383.3L275.0 1383.0L276.5 1383.0L277.9 1383.2L279.4 1383.5L280.8 1382.9L282.3 1382.9L283.7 1384.0L285.2 1383.3L286.6 1382.7L288.1 1384.1L289.5 1383.4L291.0 1382.8L292.4 1382.5L293.9 1382.8L295.4 1379.5L296.8 1367.8L298.3 1346.4L299.7 1334.2L301.2 1346.8L302.6 1368.1L304.1 1379.6L305.5 1383.0L307.0 1383.1L308.4 1383.5L309.9 1383.6L311.3 1383.0L312.8 1383.0L314.2 1383.1L315.7 1382.6L317.2 1383.4L318.6 1383.7L320.1 1383.2L321.5 1382.9L323.0 1382.9L324.4 1382.6L325.9 1382.5L327.3 1382.7L328.8 1382.4L330.2 1382.6L331.7 1382.0L333.1 1382.8L334.6 1382.6L336.1 1382.0L337.5 1381.5L339.0 1381.9L340.4 1381.4L341.9 1379.7L343.3 1378.8L344.8 1378.1L346.2 1379.6L347.7 1380.0L349.1 1381.8L350.6 1381.9L352.0 1382.6L353.5 1382.3L354.9 1382.3L356.4 1381.8L357.9 1382.3L359.3 1382.3L360.8 1382.6L362.2 1382.3L363.7 1381.8L365.1 1382.1L366.6 1382.3L368.0 1381.2L369.5 1380.4L370.9 1379.7L372.4 1379.5L373.8 1379.4L375.3 1379.5L376.8 1380.7L378.2 1381.0L379.7 1381.3L381.1 1382.1L382.6 1381.9L384.0 1381.2L385.5 1381.6L386.9 1381.8L388.4 1381.3L389.8 1381.5L391.3 1381.8L392.7 1380.7L394.2 1381.7L395.6 1381.8L397.1 1381.7L398.6 1380.8L400.0 1381.6L401.5 1381.0L402.9 1381.6L404.4 1381.6L405.8 1381.4L407.3 1380.9L408.7 1381.0L410.2 1381.6L411.6 1380.8L413.1 1381.4L414.5 1381.3L416.0 1381.0L417.5 1382.1L418.9 1381.1L420.4 1381.8L421.8 1379.3L423.3 1378.5L424.7 1379.3L426.2 1378.5L427.6 1377.9L429.1 1378.6L430.5 1378.4L432.0 1379.5L433.4 1379.9L434.9 1380.5L436.3 1381.0L437.8 1380.6L439.3 1380.7L440.7 1380.2L442.2 1380.3L443.6 1380.6L445.1 1380.4L446.5 1381.0L448.0 1380.1L449.4 1381.3L450.9 1380.0L452.3 1380.9L453.8 1380.1L455.2 1381.1L456.7 1380.4L458.2 1380.5L459.6 1380.7L461.1 1380.1L462.5 1379.9L464.0 1379.4L465.4 1380.8L466.9 1380.0L468.3 1380.0L469.8 1380.2L471.2 1381.1L472.7 1379.4L474.1 1380.3L475.6 1380.0L477.0 1380.4L478.5 1379.4L480.0 1380.0L481.4 1380.5L482.9 1380.8L484.3 1380.8L485.8 1379.7L487.2 1380.1L488.7 1380.0L490.1 1379.4L491.6 1379.4L493.0 1380.4L494.5 1380.1L495.9 1379.9L497.4 1380.5L498.8 1379.5L500.3 1380.2L501.8 1380.0L503.2 1379.9L504.7 1380.1L506.1 1380.0L507.6 1380.0L509.0 1380.0L510.5 1380.7L511.9 1379.7L513.4 1380.3L514.8 1380.1L516.3 1379.7L517.7 1380.2L519.2 1379.4L520.7 1380.3L522.1 1379.4L523.6 1379.5L525.0 1379.9L526.5 1380.1L527.9 1380.1L529.4 1380.1L530.8 1379.6L532.3 1379.3L533.7 1379.9L535.2 1379.8L536.6 1379.2L538.1 1380.1L539.5 1379.7L541.0 1379.2L542.5 1379.8L543.9 1379.0L545.4 1379.2L546.8 1379.8L548.3 1378.9L549.7 1379.6L551.2 1378.9L552.6 1379.9L554.1 1379.2L555.5 1379.3L557.0 1377.7L558.4 1379.3L559.9 1374.0L561.4 1341.6L562.8 1051.3L564.3 1014.8L565.7 1051.3L567.2 1341.6L568.6 1355.3L570.1 1363.4L571.5 1366.4L573.0 1368.5L574.4 1368.8L575.9 1367.4L577.3 1364.9L578.8 1361.4L580.2 1357.1L581.7 1355.1L583.2 1351.7L584.6 1347.7L586.1 1345.2L587.5 1340.7L589.0 1338.7L590.4 1337.3L591.9 1335.5L593.3 1333.6L594.8 1330.6L596.2 1328.4L597.7 1330.0L599.1 1329.8L600.6 1331.0L602.1 1331.0L603.5 1332.6L605.0 1332.9L606.4 1333.1L607.9 1333.3L609.3 1333.7L610.8 1333.9L612.2 1334.6L613.7 1334.7L615.1 1334.9L616.6 1334.6L618.0 1335.7L619.5 1335.0L620.9 1335.6L622.4 1335.6L623.9 1334.7L625.3 1334.4L626.8 1335.8L628.2 1335.1L629.7 1335.3L631.1 1335.3L632.6 1335.5L634.0 1335.0L635.5 1335.5L636.9 1335.4L638.4 1335.7L639.8 1334.7L641.3 1336.2L642.7 1336.0L644.2 1335.2L645.7 1335.7L647.1 1336.1L648.6 1336.4L650.0 1336.2L651.5 1336.9L652.9 1336.3L654.4 1335.9L655.8 1336.1L657.3 1336.8L658.7 1336.3L660.2 1337.0L661.6 1337.1L663.1 1337.0L664.6 1337.3L666.0 1336.8L667.5 1336.9L668.9 1336.7L670.4 1336.8L671.8 1336.4L673.3 1336.9L674.7 1336.7L676.2 1336.6L677.6 1337.4L679.1 1337.6L680.5 1337.3L682.0 1338.1L683.4 1337.9L684.9 1338.0L686.4 1337.4L687.8 1337.0L689.3 1338.0L690.7 1337.9L692.2 1338.2L693.6 1338.1L695.1 1338.5L696.5 1337.9L698.0 1338.4L699.4 1337.7L700.9 1337.1L702.3 1338.0L703.8 1339.0L705.3 1337.6L706.7 1338.8L708.2 1338.1L709.6 1338.3L711.1 1338.6L712.5 1338.7L714.0 1338.2L715.4 1338.8L716.9 1339.0L718.3 1339.2L719.8 1338.5L721.2 1339.6L722.7 1339.8L724.1 1340.1L725.6 1338.5L727.1 1339.2L728.5 1338.4L730.0 1339.4L731.4 1339.6L732.9 1338.8L734.3 1338.7L735.8 1339.6L737.2 1339.8L738.7 1339.2L740.1 1339.5L741.6 1338.6L743.0 1339.4L744.5 1339.9L746.0 1339.9L747.4 1340.6L748.9 1339.4L750.3 1339.0L751.8 1340.3L753.2 1339.9L754.7 1340.3L756.1 1340.6L757.6 1340.6L759.0 1341.0L760.5 1341.0L761.9 1339.7L763.4 1340.5L764.8 1341.5L766.3 1340.4L767.8 1341.1L769.2 1340.7L770.7 1340.6L772.1 1341.5L773.6 1341.4L775.0 1340.8L776.5 1341.4L777.9 1340.5L779.4 1340.8L780.8 1341.6L782.3 1341.2L783.7 1340.8L785.2 1341.5L786.6 1341.5L788.1 1342.0L789.6 1341.9L791.0 1341.4L792.5 1341.4L793.9 1341.6L795.4 1341.6L796.8 1342.4L798.3 1342.5L799.7 1342.5L801.2 1342.1L802.6 1341.9L804.1 1342.4L805.5 1341.9L807.0 1342.2L808.5 1341.4L809.9 1342.1L811.4 1342.9L812.8 1341.9L814.3 1341.7L815.7 1342.4L817.2 1343.3L818.6 1343.2L820.1 1342.5L821.5 1342.5L823.0 1342.7L824.4 1342.4L825.9 1342.9L827.3 1342.8L828.8 1342.3L830.3 1342.7L831.7 1342.9L833.2 1342.7L834.6 1342.7L836.1 1343.6L837.5 1344.1L839.0 1343.2L840.4 1343.2L841.9 1343.7L843.3 1343.4L844.8 1343.2L846.2 1344.2L847.7 1343.2L849.2 1343.4L850.6 1343.5L852.1 1343.4L853.5 1343.8L855.0 1344.2L856.4 1344.7L857.9 1344.4L859.3 1344.2L860.8 1343.7L862.2 1344.3L863.7 1343.9L865.1 1344.4L866.6 1344.9L868.0 1344.6L869.5 1344.5L871.0 1344.3L872.4 1344.7L873.9 1344.8L875.3 1344.4L876.8 1344.7L878.2 1345.4L879.7 1344.3L881.1 1344.9L882.6 1344.7L884.0 1345.9L885.5 1345.6L886.9 1345.6L888.4 1345.6L889.9 1345.6L891.3 1345.7L892.8 1344.9L894.2 1345.8L895.7 1346.0L897.1 1345.2L898.6 1346.3L900.0 1346.3L901.5 1345.3L902.9 1345.9L904.4 1346.0L905.8 1346.0L907.3 1346.4L908.7 1345.7L910.2 1346.2L911.7 1346.5L913.1 1346.7L914.6 1346.4L916.0 1346.3L917.5 1346.5L918.9 1343.1L920.4 1327.1L921.8 1284.7L923.3 1236.2L924.7 1236.4L926.2 1284.8L927.6 1326.5L929.1 1341.8L930.6 1344.2L932.0 1345.0L933.5 1343.7L934.9 1343.0L936.4 1342.6L937.8 1343.2L939.3 1341.9L940.7 1341.0L942.2 1340.3L943.6 1339.7L945.1 1339.5L946.5 1339.2L948.0 1339.0L949.4 1338.4L950.9 1337.5L952.4 1336.5L953.8 1335.8L955.3 1334.6L956.7 1334.7L958.2 1335.5L959.6 1335.5L961.1 1336.2L962.5 1335.8L964.0 1337.2L965.4 1337.3L966.9 1337.3L968.3 1337.5L969.8 1336.3L971.2 1337.1L972.7 1337.0L974.2 1338.2L975.6 1337.3L977.1 1337.2L978.5 1337.8L980.0 1337.0L981.4 1338.1L982.9 1337.2L984.3 1337.5L985.8 1337.1L987.2 1337.9L988.7 1336.6L990.1 1337.9L991.6 1337.3L993.1 1337.7L994.5 1337.2L996.0 1337.8L997.4 1337.8L998.9 1338.0L1000.3 1337.9L1001.8 1338.0L1003.2 1338.2L1004.7 1337.6L1006.1 1337.3L1007.6 1337.3L1009.0 1338.2L1010.5 1337.7L1011.9 1338.4L1013.4 1337.9L1014.9 1337.5L1016.3 1338.4L1017.8 1338.8L1019.2 1337.9L1020.7 1337.6L1022.1 1337.6L1023.6 1338.4L1025.0 1337.8L1026.5 1337.9L1027.9 1338.4L1029.4 1338.1L1030.8 1338.2L1032.3 1338.0L1033.8 1338.0L1035.2 1338.4L1036.7 1338.4L1038.1 1338.6L1039.6 1338.2L1041.0 1338.6L1042.5 1338.7L1043.9 1338.5L1045.4 1338.8L1046.8 1339.0L1048.3 1338.7L1049.7 1338.7L1051.2 1338.2L1052.6 1338.9L1054.1 1338.7L1055.6 1338.6L1057.0 1338.4L1058.5 1339.1L1059.9 1340.0L1061.4 1339.1L1062.8 1339.0L1064.3 1339.2L1065.7 1338.8L1067.2 1339.1L1068.6 1338.8L1070.1 1338.8L1071.5 1339.3L1073.0 1339.3L1074.5 1339.2L1075.9 1338.9L1077.4 1339.4L1078.8 1338.9L1080.3 1339.7L1081.7 1339.3L1083.2 1339.5L1084.6 1339.8L1086.1 1339.8L1087.5 1339.0L1089.0 1339.5L1090.4 1339.8L1091.9 1339.2L1093.3 1338.7L1094.8 1339.8L1096.3 1339.8L1097.7 1340.1L1099.2 1340.0L1100.6 1340.1L1102.1 1340.2L1103.5 1340.8L1105.0 1340.4L1106.4 1340.5L1107.9 1340.1L1109.3 1340.9L1110.8 1340.3L1112.2 1340.8L1113.7 1339.6L1115.1 1340.7L1116.6 1340.6L1118.1 1340.5L1119.5 1341.3L1121.0 1341.0L1122.4 1340.8L1123.9 1340.7L1125.3 1341.8L1126.8 1341.3L1128.2 1341.4L1129.7 1340.8L1131.1 1341.8L1132.6 1341.5L1134.0 1341.2L1135.5 1341.3L1137.0 1340.7L1138.4 1341.7L1139.9 1341.0L1141.3 1341.9L1142.8 1341.4L1144.2 1341.4L1145.7 1341.9L1147.1 1341.9L1148.6 1341.3L1150.0 1341.8L1151.5 1342.2L1152.9 1341.9L1154.4 1341.4L1155.8 1342.0L1157.3 1341.7L1158.8 1341.9L1160.2 1342.3L1161.7 1342.3L1163.1 1342.3L1164.6 1341.7L1166.0 1342.6L1167.5 1342.4L1168.9 1342.4L1170.4 1342.7L1171.8 1343.5L1173.3 1342.1L1174.7 1342.1L1176.2 1343.2L1177.7 1342.5L1179.1 1343.5L1180.6 1342.6L1182.0 1342.8L1183.5 1343.5L1184.9 1343.6L1186.4 1343.4L1187.8 1343.5L1189.3 1343.3L1190.7 1343.2L1192.2 1343.3L1193.6 1344.0L1195.1 1343.8L1196.5 1343.6L1198.0 1343.8L1199.5 1344.1L1200.9 1344.3L1202.4 1343.7L1203.8 1343.8L1205.3 1344.1L1206.7 1345.1L1208.2 1344.1L1209.6 1344.6L1211.1 1343.4L1212.5 1344.6L1214.0 1343.6L1215.4 1343.8L1216.9 1344.1L1218.4 1344.3L1219.8 1344.5L1221.3 1344.7L1222.7 1344.6L1224.2 1344.4L1225.6 1345.8L1227.1 1344.9L1228.5 1345.1L1230.0 1345.7L1231.4 1345.3L1232.9 1345.2L1234.3 1345.1L1235.8 1345.9L1237.2 1344.6L1238.7 1344.7L1240.2 1345.3L1241.6 1344.3L1243.1 1345.0L1244.5 1345.9L1246.0 1345.2L1247.4 1345.5L1248.9 1345.8L1250.3 1345.1L1251.8 1345.8L1253.2 1345.4L1254.7 1345.3L1256.1 1345.7L1257.6 1345.8L1259.0 1345.7L1260.5 1345.7L1262.0 1346.5L1263.4 1346.6L1264.9 1346.4L1266.3 1346.1L1267.8 1345.8L1269.2 1345.9L1270.7 1345.9L1272.1 1346.5L1273.6 1346.9L1275.0 1346.9L1276.5 1346.6L1277.9 1346.5L1279.4 1346.8L1280.9 1346.8L1282.3 1347.1L1283.8 1347.5L1285.2 1346.6L1286.7 1347.9L1288.1 1346.1L1289.6 1346.3L1291.0 1346.5L1292.5 1346.7L1293.9 1347.1L1295.4 1348.2L1296.8 1347.0L1298.3 1347.9L1299.7 1347.3L1301.2 1347.6L1302.7 1347.1L1304.1 1348.6L1305.6 1347.7L1307.0 1347.5L1308.5 1348.8L1309.9 1347.9L1311.4 1348.1L1312.8 1347.9L1314.3 1347.6L1315.7 1347.4L1317.2 1348.0L1318.6 1348.9L1320.1 1348.4L1321.6 1348.2L1323.0 1348.8L1324.5 1348.0L1325.9 1349.1L1327.4 1348.5L1328.8 1348.2L1330.3 1348.9L1331.7 1348.9L1333.2 1348.6L1334.6 1348.9L1336.1 1349.3L1337.5 1349.5L1339.0 1348.6L1340.4 1347.8L1341.9 1350.0L1343.4 1349.0L1344.8 1349.0L1346.3 1349.4L1347.7 1349.1L1349.2 1349.8L1350.6 1348.8L1352.1 1349.3L1353.5 1348.9L1355.0 1350.2L1356.4 1349.5L1357.9 1350.1L1359.3 1350.3L1360.8 1349.2L1362.3 1349.7L1363.7 1350.1L1365.2 1349.9L1366.6 1349.9L1368.1 1350.3L1369.5 1350.4L1371.0 1349.8L1372.4 1350.1L1373.9 1350.5L1375.3 1350.3L1376.8 1350.3L1378.2 1349.8L1379.7 1351.2L1381.1 1350.3L1382.6 1350.6L1384.1 1350.5L1385.5 1350.6L1387.0 1350.7L1388.4 1350.3L1389.9 1350.9L1391.3 1351.3L1392.8 1351.0L1394.2 1351.2L1395.7 1351.2L1397.1 1351.0L1398.6 1351.9L1400.0 1350.8L1401.5 1351.3L1403.0 1351.7L1404.4 1351.4L1405.9 1350.8L1407.3 1350.9L1408.8 1352.1L1410.2 1351.0L1411.7 1351.5L1413.1 1351.8L1414.6 1351.7L1416.0 1350.9L1417.5 1350.9L1418.9 1351.7L1420.4 1351.5L1421.8 1351.8L1423.3 1352.0L1424.8 1352.0L1426.2 1351.4L1427.7 1351.3L1429.1 1352.5L1430.6 1351.9L1432.0 1351.7L1433.5 1351.4L1434.9 1352.6L1436.4 1351.8L1437.8 1352.0L1439.3 1352.8L1440.7 1352.7L1442.2 1352.8L1443.6 1352.1L1445.1 1351.4L1446.6 1352.3L1448.0 1352.6L1449.5 1352.5L1450.9 1353.3L1452.4 1353.1L1453.8 1352.5L1455.3 1353.2L1456.7 1353.0L1458.2 1352.9L1459.6 1353.6L1461.1 1352.4L1462.5 1353.7L1464.0 1353.7L1465.5 1352.4L1466.9 1353.2L1468.4 1353.3L1469.8 1352.9L1471.3 1353.2L1472.7 1353.1L1474.2 1353.6L1475.6 1353.3L1477.1 1352.7L1478.5 1354.2L1480.0 1354.1L1481.4 1353.4L1482.9 1354.2L1484.3 1354.7L1485.8 1353.2L1487.3 1353.7L1488.7 1353.7L1490.2 1354.2L1491.6 1353.9L1493.1 1353.5L1494.5 1354.7L1496.0 1354.0L1497.4 1354.5L1498.9 1355.3L1500.3 1354.0L1501.8 1354.2L1503.2 1354.8L1504.7 1354.4L1506.2 1354.7L1507.6 1354.5L1509.1 1355.8L1510.5 1354.9L1512.0 1354.8L1513.4 1354.7L1514.9 1354.9L1516.3 1354.0L1517.8 1354.7L1519.2 1355.2L1520.7 1354.3L1522.1 1354.9L1523.6 1354.9L1525.0 1354.8L1526.5 1356.2L1528.0 1355.4L1529.4 1355.3L1530.9 1354.8L1532.3 1355.3L1533.8 1355.1L1535.2 1355.3L1536.7 1355.4L1538.1 1356.5L1539.6 1356.0L1541.0 1356.2L1542.5 1356.1L1543.9 1356.8L1545.4 1355.3L1546.9 1355.0L1548.3 1355.7L1549.8 1355.7L1551.2 1355.6L1552.7 1355.3L1554.1 1355.9L1555.6 1355.8L1557.0 1354.7L1558.5 1354.0L1559.9 1354.1L1561.4 1352.9L1562.8 1352.4L1564.3 1352.4L1565.7 1350.9L1567.2 1352.4L1568.7 1351.2L1570.1 1351.2L1571.6 1351.1L1573.0 1351.3L1574.5 1350.8L1575.9 1352.4L1577.4 1352.1L1578.8 1352.2L1580.3 1353.6L1581.7 1351.6L1583.2 1352.4L1584.6 1352.0L1586.1 1351.3L1587.5 1352.8L1589.0 1351.2L1590.5 1351.9L1591.9 1351.8L1593.4 1351.9L1594.8 1351.3L1596.3 1352.3L1597.7 1351.7L1599.2 1351.0L1600.6 1351.0L1602.1 1351.6L1603.5 1351.1L1605.0 1351.8L1606.4 1351.8L1607.9 1351.5L1609.4 1350.9L1610.8 1351.2L1612.3 1352.0L1613.7 1351.7L1615.2 1352.8L1616.6 1351.8L1618.1 1352.2L1619.5 1352.4L1621.0 1352.2L1622.4 1352.4L1623.9 1352.7L1625.3 1352.3L1626.8 1352.5L1628.2 1352.3L1629.7 1353.4L1631.2 1352.6L1632.6 1353.0L1634.1 1351.3L1635.5 1352.5L1637.0 1352.2L1638.4 1352.8L1639.9 1352.6L1641.3 1352.4L1642.8 1352.8L1644.2 1353.3L1645.7 1353.5L1647.1 1352.8L1648.6 1353.6L1650.1 1352.9L1651.5 1353.5L1653.0 1352.9L1654.4 1353.8L1655.9 1354.4L1657.3 1353.3L1658.8 1354.0L1660.2 1352.9L1661.7 1353.3L1663.1 1354.8L1664.6 1353.6L1666.0 1353.9L1667.5 1353.0L1668.9 1353.8L1670.4 1353.5L1671.9 1354.4L1673.3 1353.7L1674.8 1355.1L1676.2 1353.5L1677.7 1354.2L1679.1 1353.2L1680.6 1354.0L1682.0 1354.8L1683.5 1354.2L1684.9 1353.7L1686.4 1354.6L1687.8 1354.8L1689.3 1354.7L1690.8 1354.9L1692.2 1353.9L1693.7 1355.4L1695.1 1355.0L1696.6 1353.8L1698.0 1355.6L1699.5 1354.6L1700.9 1355.1L1702.4 1354.0L1703.8 1354.7L1705.3 1354.2L1706.7 1355.5L1708.2 1355.0L1709.6 1354.8L1711.1 1355.1L1712.6 1355.8L1714.0 1355.0L1715.5 1355.7L1716.9 1354.9L1718.4 1354.8L1719.8 1355.4L1721.3 1355.5L1722.7 1355.8L1724.2 1356.2L1725.6 1355.6L1727.1 1355.7L1728.5 1356.2L1730.0 1356.1L1731.4 1356.0L1732.9 1356.2L1734.4 1355.1L1735.8 1355.9L1737.3 1355.5L1738.7 1356.1L1740.2 1356.7L1741.6 1355.6L1743.1 1356.9L1744.5 1356.2L1746.0 1356.5L1747.4 1356.4L1748.9 1357.0L1750.3 1356.4L1751.8 1355.8L1753.3 1357.0L1754.7 1356.8L1756.2 1357.2L1757.6 1357.2L1759.1 1356.5L1760.5 1357.1L1762.0 1357.1L1763.4 1357.1L1764.9 1357.2L1766.3 1357.3L1767.8 1357.0L1769.2 1357.2L1770.7 1357.8L1772.1 1356.9L1773.6 1357.4L1775.1 1357.0L1776.5 1357.0L1778.0 1357.3L1779.4 1357.6L1780.9 1358.3L1782.3 1357.5L1783.8 1358.1L1785.2 1357.9L1786.7 1357.8L1788.1 1356.4L1789.6 1357.9L1791.0 1357.9L1792.5 1357.4L1794.0 1358.0L1795.4 1358.6L1796.9 1357.5L1798.3 1357.8L1799.8 1358.5L1801.2 1357.3L1802.7 1357.7L1804.1 1358.3L1805.6 1358.7L1807.0 1358.8L1808.5 1358.7L1809.9 1359.4L1811.4 1358.6L1812.8 1357.9L1814.3 1358.4L1815.8 1358.8L1817.2 1358.7L1818.7 1357.7L1820.1 1358.8L1821.6 1358.3L1823.0 1358.6L1824.5 1359.4L1825.9 1358.7L1827.4 1358.5L1828.8 1358.8L1830.3 1358.6L1831.7 1359.9L1833.2 1359.4L1834.7 1359.5L1836.1 1358.8L1837.6 1358.8L1839.0 1359.3L1840.5 1358.2L1841.9 1359.7L1843.4 1358.7L1844.8 1359.4L1846.3 1359.5L1847.7 1359.0L1849.2 1359.6L1850.6 1359.8L1852.1 1360.4L1853.5 1359.7L1855.0 1360.4L1856.5 1359.8L1857.9 1359.6L1859.4 1360.1L1860.8 1359.6L1862.3 1359.9L1863.7 1360.2L1865.2 1360.5L1866.6 1360.1L1868.1 1359.4L1869.5 1360.7L1871.0 1360.2L1872.4 1360.1L1873.9 1359.9L1875.4 1360.5L1876.8 1360.5L1878.3 1360.7L1879.7 1360.4L1881.2 1361.2L1882.6 1360.4L1884.1 1360.8L1885.5 1360.7L1887.0 1361.2L1888.4 1360.4L1889.9 1360.7L1891.3 1360.7L1892.8 1360.6L1894.2 1360.6L1895.7 1360.4L1897.2 1361.4L1898.6 1361.8L1900.1 1360.7L1901.5 1361.5L1903.0 1360.7L1904.4 1360.9L1905.9 1361.2L1907.3 1361.4L1908.8 1361.2L1910.2 1359.7L1911.7 1359.4L1913.1 1359.6L1914.6 1357.9L1916.0 1357.1L1917.5 1354.1L1919.0 1352.1L1920.4 1351.0L1921.9 1346.9L1923.3 1345.0L1924.8 1344.7L1926.2 1342.2L1927.7 1341.8L1929.1 1340.9L1930.6 1339.9L1932.0 1339.5L1933.5 1338.9L1934.9 1340.5L1936.4 1340.9L1937.9 1341.4L1939.3 1341.3L1940.8 1341.6L1942.2 1344.0L1943.7 1345.4L1945.1 1346.6L1946.6 1345.5L1948.0 1345.6L1949.5 1345.9L1950.9 1345.8L1952.4 1345.5L1953.8 1344.7L1955.3 1344.8L1956.7 1345.9L1958.2 1345.4L1959.7 1344.6L1961.1 1345.9L1962.6 1344.9L1964.0 1345.0L1965.5 1344.6L1966.9 1346.1L1968.4 1345.9L1969.8 1346.3L1971.3 1346.4L1972.7 1346.6L1974.2 1347.7L1975.6 1347.9L1977.1 1348.7L1978.6 1347.7L1980.0 1348.0L1981.5 1348.7L1982.9 1348.7L1984.4 1348.1L1985.8 1349.1L1987.3 1348.7L1988.7 1349.0L1990.2 1348.8L1991.6 1349.2L1993.1 1348.7L1994.5 1348.8L1996.0 1349.6L1997.4 1349.4L1998.9 1349.5L2000.4 1350.0L2001.8 1349.8L2003.3 1350.0L2004.7 1348.9L2006.2 1349.8L2007.6 1350.6L2009.1 1350.0L2010.5 1350.4L2012.0 1350.8L2013.4 1350.7L2014.9 1351.2L2016.3 1351.1L2017.8 1350.9L2019.3 1351.5L2020.7 1351.0L2022.2 1350.9L2023.6 1351.4L2025.1 1351.6L2026.5 1351.3L2028.0 1351.0L2029.4 1351.3L2030.9 1351.7L2032.3 1352.0L2033.8 1352.5L2035.2 1351.7L2036.7 1351.8L2038.1 1351.0L2039.6 1352.6"/>
</defs>
<g fill="none" stroke="#000000" stroke-linejoin="round" stroke-linecap="round">
<use href="#c0" stroke-width="8.2" stroke-opacity="0.38"/>
<use href="#c0" stroke-width="5.4"/>
</g>
<g fill="none" stroke="#ff0000" stroke-linejoin="round" stroke-linecap="round">
<use href="#c1" stroke-width="8.2" stroke-opacity="0.38"/>
<use href="#c1" stroke-width="5.4"/>
</g>
<g fill="none" stroke="#0000ff" stroke-linejoin="round" stroke-linecap="round">
<use href="#c2" stroke-width="8.2" stroke-opacity="0.38"/>
<use href="#c2" stroke-width="5.4"/>
</g>
<rect x="150.0" y="32.0" width="1889.6" height="1387.5" fill="none" stroke="#000" stroke-width="5.5"/>
<line x1="150.0" y1="1419.5" x2="150.0" y2="1450.5" stroke="#000" stroke-width="5"/>
<line x1="295.4" y1="1419.5" x2="295.4" y2="1436.5" stroke="#000" stroke-width="5"/>
<line x1="440.7" y1="1419.5" x2="440.7" y2="1450.5" stroke="#000" stroke-width="5"/>
<line x1="586.1" y1="1419.5" x2="586.1" y2="1436.5" stroke="#000" stroke-width="5"/>
<line x1="731.4" y1="1419.5" x2="731.4" y2="1450.5" stroke="#000" stroke-width="5"/>
<line x1="876.8" y1="1419.5" x2="876.8" y2="1436.5" stroke="#000" stroke-width="5"/>
<line x1="1022.1" y1="1419.5" x2="1022.1" y2="1450.5" stroke="#000" stroke-width="5"/>
<line x1="1167.5" y1="1419.5" x2="1167.5" y2="1436.5" stroke="#000" stroke-width="5"/>
<line x1="1312.8" y1="1419.5" x2="1312.8" y2="1450.5" stroke="#000" stroke-width="5"/>
<line x1="1458.2" y1="1419.5" x2="1458.2" y2="1436.5" stroke="#000" stroke-width="5"/>
<line x1="1603.5" y1="1419.5" x2="1603.5" y2="1450.5" stroke="#000" stroke-width="5"/>
<line x1="1748.9" y1="1419.5" x2="1748.9" y2="1436.5" stroke="#000" stroke-width="5"/>
<line x1="1894.2" y1="1419.5" x2="1894.2" y2="1450.5" stroke="#000" stroke-width="5"/>
<line x1="2039.6" y1="1419.5" x2="2039.6" y2="1436.5" stroke="#000" stroke-width="5"/>
<text transform="translate(150.00 1509.50) scale(1 1.040)" font-size="56.50" text-anchor="middle">0</text>
<text transform="translate(440.71 1509.50) scale(1 1.040)" font-size="56.50" text-anchor="middle">200</text>
<text transform="translate(731.42 1509.50) scale(1 1.040)" font-size="56.50" text-anchor="middle">400</text>
<text transform="translate(1022.12 1509.50) scale(1 1.040)" font-size="56.50" text-anchor="middle">600</text>
<text transform="translate(1312.83 1509.50) scale(1 1.040)" font-size="56.50" text-anchor="middle">800</text>
<text transform="translate(1603.54 1509.50) scale(1 1.040)" font-size="56.50" text-anchor="middle">1000</text>
<text transform="translate(1894.25 1509.50) scale(1 1.040)" font-size="56.50" text-anchor="middle">1200</text>
<text transform="translate(815.20 1627.50) scale(1 1.020)" font-size="67.50" textLength="622.00" lengthAdjust="spacingAndGlyphs">Binding Energy (eV)</text>
<text transform="translate(76.00 489.90) rotate(-90) scale(1 1.040)" font-size="69.00" textLength="308.60" lengthAdjust="spacingAndGlyphs">Counts / s</text>
<line x1="1023.5" y1="107.0" x2="1170.5" y2="107.0" stroke="#000" stroke-width="8.6" stroke-opacity="0.42"/>
<line x1="1023.5" y1="107.0" x2="1170.5" y2="107.0" stroke="#000" stroke-width="5.2"/>
<line x1="1023.5" y1="184.0" x2="1170.5" y2="184.0" stroke="#f00" stroke-width="8.6" stroke-opacity="0.42"/>
<line x1="1023.5" y1="184.0" x2="1170.5" y2="184.0" stroke="#f00" stroke-width="5.2"/>
<line x1="1023.5" y1="261.0" x2="1170.5" y2="261.0" stroke="#00f" stroke-width="8.6" stroke-opacity="0.42"/>
<line x1="1023.5" y1="261.0" x2="1170.5" y2="261.0" stroke="#00f" stroke-width="5.2"/>
<text transform="translate(1182.10 126.70) scale(1 1.015)" font-size="61.50" textLength="168.40" lengthAdjust="spacingAndGlyphs">PP/20</text>
<text transform="translate(1352.73 127.30) scale(1 1.020)" font-size="51.00" font-weight="200" font-family="'DejaVu Sans', sans-serif" stroke="#000" stroke-width="0.6">%</text>
<text transform="translate(1400.05 126.70) scale(1 1.015)" font-size="61.50" textLength="289.90" lengthAdjust="spacingAndGlyphs">PN-DOPO</text>
<text transform="translate(1182.30 204.80) scale(1 1.015)" font-size="61.50" textLength="171.80" lengthAdjust="spacingAndGlyphs">PP/17</text>
<text transform="translate(1351.53 205.40) scale(1 1.020)" font-size="51.00" font-weight="200" font-family="'DejaVu Sans', sans-serif" stroke="#000" stroke-width="0.6">%</text>
<text transform="translate(1399.20 204.80) scale(1 1.015)" font-size="61.50" textLength="342.10" lengthAdjust="spacingAndGlyphs">PN-DOPO/3</text>
<text transform="translate(1740.03 205.40) scale(1 1.020)" font-size="51.00" font-weight="200" font-family="'DejaVu Sans', sans-serif" stroke="#000" stroke-width="0.6">%</text>
<text transform="translate(1789.70 204.80) scale(1 1.015)" font-size="61.50" textLength="190.10" lengthAdjust="spacingAndGlyphs">OMMT</text>
<text transform="translate(1181.90 281.50) scale(1 1.015)" font-size="61.50" textLength="136.80" lengthAdjust="spacingAndGlyphs">PP/7</text>
<text transform="translate(1317.13 282.10) scale(1 1.020)" font-size="51.00" font-weight="200" font-family="'DejaVu Sans', sans-serif" stroke="#000" stroke-width="0.6">%</text>
<text transform="translate(1366.60 281.50) scale(1 1.015)" font-size="61.50" textLength="190.30" lengthAdjust="spacingAndGlyphs">OMMT</text>
<text transform="translate(591.60 106.00) scale(1 1.040)" font-size="61.50">C</text>
<text transform="translate(635.50 130.00) scale(1 1.040)" font-size="35.50">1s</text>
<text transform="translate(883.70 339.00) scale(1 1.040)" font-size="61.50">O</text>
<text transform="translate(933.00 363.00) scale(1 1.040)" font-size="35.50">1s</text>
<text transform="translate(308.80 405.50) scale(1 1.040)" font-size="61.50">P</text>
<text transform="translate(350.50 428.70) scale(1 1.040)" font-size="35.50">2p</text>
<text transform="translate(174.60 840.00) scale(1 1.040)" font-size="57.00">Al</text>
<text transform="translate(222.20 861.70) scale(1 1.040)" font-size="34.50">2p</text>
<text transform="translate(264.60 807.00) scale(1 1.040)" font-size="57.00">Si</text>
<text transform="translate(314.70 830.00) scale(1 1.040)" font-size="34.50">2p</text>
<text transform="translate(336.10 907.80) scale(1 1.040)" font-size="61.50">P</text>
<text transform="translate(377.30 933.00) scale(1 1.040)" font-size="35.50">2p</text>
<text transform="translate(177.50 1262.50) scale(1 1.040)" font-size="57.00">Al</text>
<text transform="translate(225.00 1284.10) scale(1 1.040)" font-size="34.50">2p</text>
<text transform="translate(273.00 1276.00) scale(1 1.040)" font-size="57.00">Si</text>
<text transform="translate(320.60 1297.50) scale(1 1.040)" font-size="34.50">2p</text>
<line x1="213.3" y1="873.9" x2="236.4" y2="916.7" stroke="#000" stroke-width="2.1"/>
<polygon points="252.6,946.6 226.7,919.7 244.3,910.2" fill="#000"/>
<line x1="296.0" y1="824.2" x2="296.0" y2="896.8" stroke="#000" stroke-width="2.4"/>
<polygon points="296.0,930.8 286.0,894.8 306.0,894.8" fill="#000"/>
<line x1="213.9" y1="1278.0" x2="239.3" y2="1313.6" stroke="#000" stroke-width="2.1"/>
<polygon points="259.0,1341.3 230.0,1317.8 246.3,1306.2" fill="#000"/>
</svg>
</body></html>
